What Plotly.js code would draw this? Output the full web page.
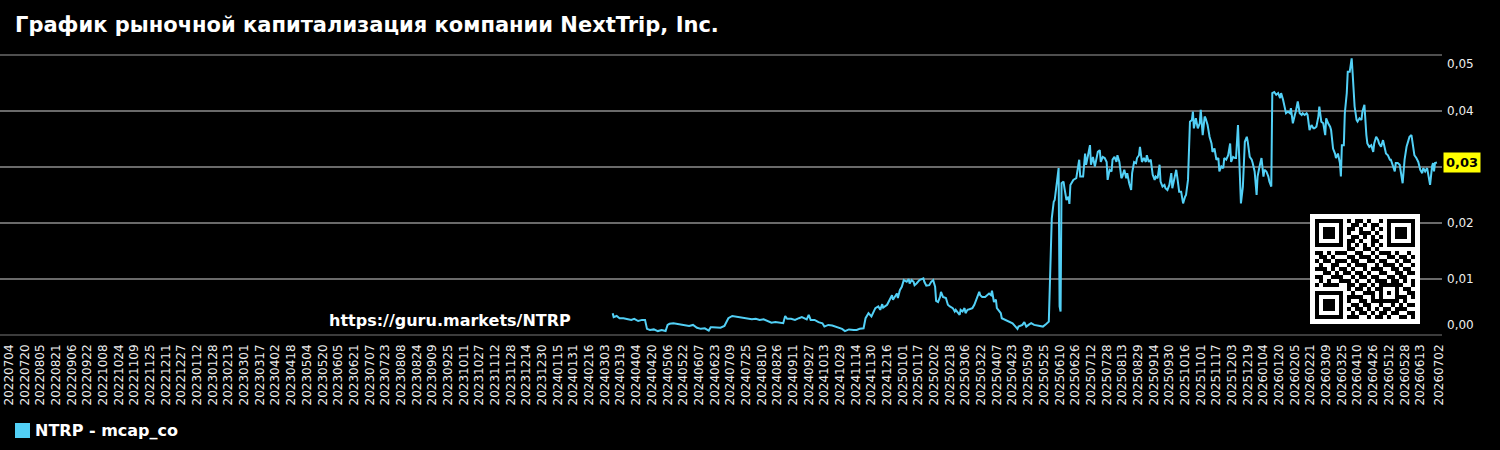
<!DOCTYPE html>
<html>
<head>
<meta charset="utf-8">
<script src="https://cdn.plot.ly/plotly-3.0.1.min.js"></script>
<style>
  html, body { margin: 0; padding: 0; background: #000; }
  #chart { width: 1500px; height: 450px; }
</style>
</head>
<body>
<div id="chart"></div>
<script>
// ---------------- DATA ----------------
const chartTitle = "График рыночной капитализация компании NextTrip, Inc.";
const seriesName = "NTRP - mcap_co";
const watermark = "https://guru.markets/NTRP";

const dates = [
"2024-03-13","2024-03-14","2024-03-17","2024-03-20","2024-03-24","2024-03-28","2024-04-01","2024-04-04","2024-04-08","2024-04-12",
"2024-04-15","2024-04-17","2024-04-20","2024-04-24","2024-04-28","2024-05-02","2024-05-06","2024-05-08","2024-05-10","2024-05-14",
"2024-05-18","2024-05-22","2024-05-26","2024-05-30","2024-06-03","2024-06-07","2024-06-11","2024-06-15","2024-06-19","2024-06-21",
"2024-06-23","2024-06-27","2024-07-01","2024-07-05","2024-07-09","2024-07-13","2024-07-17","2024-07-21","2024-07-25","2024-07-29",
"2024-08-02","2024-08-06","2024-08-10","2024-08-14","2024-08-18","2024-08-22","2024-08-26","2024-08-30","2024-09-03","2024-09-05",
"2024-09-07","2024-09-11","2024-09-15","2024-09-19","2024-09-22","2024-09-27","2024-09-29","2024-10-01","2024-10-05","2024-10-09",
"2024-10-13","2024-10-15","2024-10-19","2024-10-23","2024-10-27","2024-10-29","2024-11-02","2024-11-05","2024-11-09","2024-11-14",
"2024-11-17","2024-11-20","2024-11-24","2024-11-26","2024-11-29","2024-12-02","2024-12-06","2024-12-09","2024-12-11","2024-12-13",
"2024-12-14","2024-12-18","2024-12-21","2024-12-23","2024-12-24","2024-12-28","2024-12-29","2024-12-31","2025-01-02","2025-01-04",
"2025-01-07","2025-01-09","2025-01-10","2025-01-12","2025-01-14","2025-01-15","2025-01-17","2025-01-19","2025-01-20","2025-01-24",
"2025-01-25","2025-01-27","2025-01-30","2025-02-01","2025-02-03","2025-02-05","2025-02-06","2025-02-08","2025-02-10","2025-02-11",
"2025-02-13","2025-02-16","2025-02-18","2025-02-20","2025-02-23","2025-02-25","2025-02-26","2025-03-02","2025-03-03","2025-03-05",
"2025-03-07","2025-03-08","2025-03-10","2025-03-12","2025-03-15","2025-03-17","2025-03-20","2025-03-22","2025-03-23","2025-03-25",
"2025-03-28","2025-04-01","2025-04-03","2025-04-04","2025-04-06","2025-04-08","2025-04-09","2025-04-13","2025-04-14","2025-04-18",
"2025-04-21","2025-04-25","2025-04-28","2025-04-30","2025-05-01","2025-05-05","2025-05-07","2025-05-09","2025-05-12","2025-05-14",
"2025-05-17","2025-05-20","2025-05-26","2025-05-29","2025-06-01","2025-06-04","2025-06-06","2025-06-07","2025-06-09","2025-06-11",
"2025-06-12","2025-06-13","2025-06-14","2025-06-16","2025-06-17","2025-06-19","2025-06-21","2025-06-22","2025-06-23","2025-06-26",
"2025-06-29","2025-07-02","2025-07-03","2025-07-06","2025-07-08","2025-07-09","2025-07-11","2025-07-13","2025-07-14","2025-07-16",
"2025-07-18","2025-07-19","2025-07-21","2025-07-23","2025-07-24","2025-07-26","2025-07-28","2025-07-30","2025-07-31","2025-08-02",
"2025-08-04","2025-08-05","2025-08-07","2025-08-09","2025-08-10","2025-08-12","2025-08-14","2025-08-15","2025-08-17","2025-08-19",
"2025-08-20","2025-08-22","2025-08-24","2025-08-25","2025-08-27","2025-08-29","2025-08-30","2025-09-01","2025-09-02","2025-09-04",
"2025-09-06","2025-09-08","2025-09-09","2025-09-11","2025-09-13","2025-09-15","2025-09-17","2025-09-18","2025-09-20","2025-09-22",
"2025-09-23","2025-09-25","2025-09-27","2025-09-28","2025-09-30","2025-10-02","2025-10-04","2025-10-05","2025-10-07","2025-10-09",
"2025-10-10","2025-10-12","2025-10-14","2025-10-16","2025-10-18","2025-10-19","2025-10-21","2025-10-23","2025-10-25","2025-10-26",
"2025-10-27","2025-10-29","2025-10-31","2025-11-02","2025-11-03","2025-11-04","2025-11-05","2025-11-07","2025-11-08","2025-11-10",
"2025-11-12","2025-11-14","2025-11-15","2025-11-17","2025-11-19","2025-11-21","2025-11-22","2025-11-24","2025-11-26","2025-11-27",
"2025-11-29","2025-12-01","2025-12-03","2025-12-04","2025-12-06","2025-12-08","2025-12-09","2025-12-11","2025-12-12","2025-12-13",
"2025-12-14","2025-12-16","2025-12-18","2025-12-20","2025-12-21","2025-12-23","2025-12-25","2025-12-26","2025-12-28","2025-12-30",
"2025-12-31","2026-01-02","2026-01-04","2026-01-06","2026-01-07","2026-01-09","2026-01-11","2026-01-12","2026-01-14","2026-01-15",
"2026-01-17","2026-01-19","2026-01-21","2026-01-23","2026-01-24","2026-01-26","2026-01-28","2026-01-29","2026-01-31","2026-02-02",
"2026-02-03","2026-02-05","2026-02-07","2026-02-08","2026-02-10","2026-02-12","2026-02-14","2026-02-15","2026-02-17","2026-02-19",
"2026-02-20","2026-02-22","2026-02-24","2026-02-26","2026-02-27","2026-03-01","2026-03-03","2026-03-04","2026-03-06","2026-03-08",
"2026-03-10","2026-03-11","2026-03-13","2026-03-15","2026-03-16","2026-03-18","2026-03-20","2026-03-21","2026-03-23","2026-03-25",
"2026-03-26","2026-03-27","2026-03-29","2026-03-30","2026-04-01","2026-04-02","2026-04-04","2026-04-06","2026-04-07","2026-04-09",
"2026-04-11","2026-04-12","2026-04-14","2026-04-16","2026-04-17","2026-04-19","2026-04-21","2026-04-22","2026-04-24","2026-04-26",
"2026-04-28","2026-04-29","2026-05-01","2026-05-03","2026-05-04","2026-05-06","2026-05-08","2026-05-10","2026-05-11","2026-05-13",
"2026-05-15","2026-05-16","2026-05-18","2026-05-20","2026-05-21","2026-05-23","2026-05-25","2026-05-27","2026-05-28","2026-05-30",
"2026-06-01","2026-06-03","2026-06-04","2026-06-06","2026-06-08","2026-06-09","2026-06-11","2026-06-13","2026-06-15","2026-06-17",
"2026-06-18","2026-06-20","2026-06-22","2026-06-23","2026-06-25","2026-06-27","2026-06-28","2026-06-29","2026-06-30","2026-07-02"
];

const mcap = [
0.0039,0.0032,0.0034,0.0030,0.0030,0.0028,0.0027,0.0029,0.0025,0.0027,
0.0027,0.0011,0.0009,0.0010,0.0007,0.0009,0.0007,0.0018,0.0020,0.0021,
0.0020,0.0019,0.0017,0.0016,0.0018,0.0013,0.0011,0.0012,0.0008,0.0014,
0.0014,0.0013,0.0013,0.0016,0.0030,0.0034,0.0033,0.0032,0.0031,0.0030,
0.0028,0.0029,0.0027,0.0028,0.0025,0.0022,0.0023,0.0022,0.0021,0.0034,
0.0029,0.0029,0.0027,0.0030,0.0032,0.0028,0.0036,0.0027,0.0027,0.0023,
0.0021,0.0015,0.0018,0.0017,0.0015,0.0014,0.0011,0.0007,0.0010,0.0009,
0.0009,0.0011,0.0012,0.0030,0.0039,0.0033,0.0048,0.0051,0.0045,0.0055,
0.0049,0.0054,0.0066,0.0071,0.0063,0.0074,0.0066,0.0080,0.0086,0.0098,
0.0095,0.0100,0.0092,0.0098,0.0095,0.0089,0.0092,0.0095,0.0098,0.0101,
0.0095,0.0088,0.0089,0.0095,0.0098,0.0086,0.0061,0.0059,0.0068,0.0077,
0.0068,0.0066,0.0054,0.0051,0.0048,0.0042,0.0045,0.0036,0.0045,0.0042,
0.0048,0.0039,0.0045,0.0046,0.0048,0.0054,0.0066,0.0077,0.0071,0.0068,
0.0068,0.0074,0.0071,0.0079,0.0059,0.0063,0.0048,0.0039,0.0030,0.0027,
0.0024,0.0021,0.0015,0.0011,0.0015,0.0018,0.0023,0.0015,0.0019,0.0021,
0.0018,0.0017,0.0015,0.0019,0.0024,0.0208,0.0238,0.0241,0.0268,0.0298,
0.0051,0.0042,0.0271,0.0274,0.0262,0.0241,0.0247,0.0234,0.0268,0.0277,
0.0280,0.0313,0.0283,0.0283,0.0324,0.0304,0.0321,0.0339,0.0304,0.0318,
0.0301,0.0309,0.0327,0.0330,0.0309,0.0318,0.0316,0.0309,0.0277,0.0295,
0.0292,0.0313,0.0318,0.0309,0.0321,0.0309,0.0280,0.0283,0.0295,0.0280,
0.0289,0.0271,0.0259,0.0289,0.0309,0.0307,0.0316,0.0321,0.0336,0.0309,
0.0316,0.0309,0.0321,0.0309,0.0313,0.0286,0.0277,0.0283,0.0280,0.0304,
0.0274,0.0265,0.0268,0.0262,0.0259,0.0268,0.0289,0.0262,0.0277,0.0295,
0.0283,0.0256,0.0256,0.0235,0.0247,0.0250,0.0277,0.0381,0.0384,0.0399,
0.0369,0.0387,0.0369,0.0378,0.0402,0.0378,0.0357,0.0390,0.0387,0.0375,
0.0354,0.0342,0.0327,0.0333,0.0313,0.0316,0.0292,0.0301,0.0298,0.0316,
0.0313,0.0321,0.0342,0.0309,0.0318,0.0316,0.0316,0.0375,0.0313,0.0289,
0.0235,0.0265,0.0345,0.0354,0.0345,0.0318,0.0313,0.0307,0.0292,0.0250,
0.0283,0.0301,0.0316,0.0283,0.0295,0.0292,0.0283,0.0274,0.0265,0.0432,
0.0434,0.0429,0.0432,0.0423,0.0432,0.0420,0.0402,0.0396,0.0399,0.0396,
0.0405,0.0378,0.0393,0.0399,0.0417,0.0396,0.0393,0.0396,0.0393,0.0396,
0.0393,0.0366,0.0375,0.0369,0.0369,0.0372,0.0390,0.0408,0.0381,0.0378,
0.0357,0.0387,0.0378,0.0372,0.0366,0.0333,0.0324,0.0316,0.0324,0.0307,
0.0283,0.0339,0.0339,0.0396,0.0432,0.0470,0.0470,0.0494,0.0467,0.0408,
0.0384,0.0381,0.0387,0.0384,0.0399,0.0411,0.0357,0.0342,0.0336,0.0339,
0.0327,0.0342,0.0354,0.0348,0.0342,0.0336,0.0348,0.0333,0.0324,0.0321,
0.0313,0.0313,0.0304,0.0292,0.0307,0.0307,0.0304,0.0286,0.0271,0.0313,
0.0336,0.0348,0.0354,0.0357,0.0336,0.0321,0.0316,0.0309,0.0295,0.0289,
0.0298,0.0292,0.0298,0.0289,0.0268,0.0301,0.0307,0.0292,0.0307,0.0308
];

const xTickLabels = [
"20220704","20220720","20220805","20220821","20220906","20220922","20221008","20221024","20221109","20221125","20221211","20221227",
"20230112","20230128","20230213","20230301","20230317","20230402","20230418","20230504","20230520","20230605","20230621","20230707",
"20230723","20230808","20230824","20230909","20230925","20231011","20231027","20231112","20231128","20231214","20231230",
"20240115","20240131","20240216","20240303","20240319","20240404","20240420","20240506","20240522","20240607","20240623","20240709",
"20240725","20240810","20240826","20240911","20240927","20241013","20241029","20241114","20241130","20241216",
"20250101","20250117","20250202","20250218","20250306","20250322","20250407","20250423","20250509","20250525","20250610","20250626",
"20250712","20250728","20250813","20250829","20250914","20250930","20251016","20251101","20251117","20251203","20251219",
"20260104","20260120","20260205","20260221","20260309","20260325","20260410","20260426","20260512","20260528","20260613","20260702"
];

const yTickValues = [0, 0.01, 0.02, 0.03, 0.04, 0.05];
const yTickLabels = ["0,00", "0,01", "0,02", "0,03", "0,04", "0,05"];

// decorative QR-style code (watermark badge)
const qrRows = [
"1111111010110100101111111",
"1000001001101011001000001",
"1011101011010010101011101",
"1011101010011101001011101",
"1011101001101010101011101",
"1000001011010011001000001",
"1111111010101010101111111",
"0000000011001101000000000",
"1101011100110010111010010",
"0110100011011101001101101",
"1011011101100110110010110",
"0100110010111001011101001",
"1110101101001011100110110",
"0011010110110100110011011",
"1100111001011011001101100",
"0101001110100101110110101",
"1011110011011010111111001",
"0000000010110101100010110",
"1111111001001110101010011",
"1000001011110010100011101",
"1011101010011011111110100",
"1011101001101100100101011",
"1011101010110101011011100",
"1000001001011010110110011",
"1111111011100101101001101"
];

// ---------------- LAYOUT ----------------
const W = 1500, H = 450;
const ML = 0, MR = 58, MT = 55, MB = 115;
const plotW = W - ML - MR, plotH = H - MT - MB;
const px2x = p => (p - ML) / plotW;
const py2y = p => (H - MB - p) / plotH;

const FONT = "DejaVu Sans, Verdana, sans-serif";
const lineColor = "#52d0f6";
const tickTextColor = "#eeeeee";
const gridColor = "#6a6a6a";

function toIso(s) { return s.slice(0,4) + "-" + s.slice(4,6) + "-" + s.slice(6,8); }

const trace = {
  type: "scatter",
  mode: "lines",
  x: dates,
  y: mcap,
  name: seriesName,
  line: { color: lineColor, width: 2 },
  showlegend: false,
  hoverinfo: "x+y"
};

const annotations = [];
const shapes = [];

// top gridline (range end)
shapes.push({
  type: "line", xref: "paper", yref: "paper", x0: 0, x1: 1, y0: 1, y1: 1,
  line: { color: gridColor, width: 1.4 }, layer: "below"
});

const lastVal = mcap[mcap.length - 1];

// y tick labels (edge labels nudged inside, as in the reference);
// the label hidden by the last-value marker is not drawn
yTickValues.forEach((v, i) => {
  if (Math.abs(v - lastVal) < 0.002) return;
  let shift = 0;
  if (i === 0) shift = 10;
  if (i === yTickValues.length - 1) shift = -9;
  annotations.push({
    xref: "paper", yref: "y", x: 1, y: v, xanchor: "left", yanchor: "middle",
    xshift: 3, yshift: shift, showarrow: false, text: yTickLabels[i],
    font: { family: FONT, size: 12, color: tickTextColor }
  });
});

// last value marker
annotations.push({
  xref: "paper", yref: "y", x: 1, y: lastVal, xanchor: "left", yanchor: "middle",
  xshift: 1, showarrow: false, text: "<b>" + lastVal.toFixed(2).replace(".", ",") + "</b>",
  bgcolor: "#ffff00", borderpad: 2,
  font: { family: FONT, size: 13, color: "#000000" }
});

// watermark text
annotations.push({
  xref: "paper", yref: "paper", x: px2x(450), y: py2y(320), xanchor: "center", yanchor: "middle",
  showarrow: false, text: "<b>" + watermark + "</b>",
  font: { family: FONT, size: 16, color: "#ffffff" }
});

// legend (square swatch + label)
shapes.push({
  type: "rect", xref: "paper", yref: "paper",
  x0: px2x(15), x1: px2x(30), y0: py2y(438), y1: py2y(423),
  fillcolor: lineColor, line: { width: 0 }
});
annotations.push({
  xref: "paper", yref: "paper", x: px2x(33), y: py2y(430.5), xanchor: "left", yanchor: "middle",
  showarrow: false, text: "<b>" + seriesName + "</b>",
  font: { family: FONT, size: 16, color: "#ffffff" }
});

// QR badge
const qrX0 = 1310, qrY0 = 214, qrSize = 110, mod = 4, qrPad = 5;
shapes.push({
  type: "rect", xref: "paper", yref: "paper",
  x0: px2x(qrX0), x1: px2x(qrX0 + qrSize), y0: py2y(qrY0 + qrSize), y1: py2y(qrY0),
  fillcolor: "#ffffff", line: { width: 0 }, layer: "above"
});
qrRows.forEach((row, r) => {
  let c = 0;
  while (c < row.length) {
    if (row[c] === "1") {
      let e = c;
      while (e < row.length && row[e] === "1") e++;
      const xa = qrX0 + qrPad + c * mod, xb = qrX0 + qrPad + e * mod;
      const ya = qrY0 + qrPad + r * mod, yb = ya + mod;
      shapes.push({
        type: "rect", xref: "paper", yref: "paper",
        x0: px2x(xa), x1: px2x(xb), y0: py2y(yb), y1: py2y(ya),
        fillcolor: "#000000", line: { width: 0 }, layer: "above"
      });
      c = e;
    } else c++;
  }
});

const layout = {
  width: W, height: H,
  paper_bgcolor: "#000000",
  plot_bgcolor: "#000000",
  margin: { l: ML, r: MR, t: MT, b: MB, pad: 0 },
  separators: ", ",
  showlegend: false,
  title: {
    text: "<b>" + chartTitle + "</b>",
    xref: "container", yref: "container",
    x: 15 / W, xanchor: "left",
    y: 1 - 25 / H, yanchor: "middle",
    font: { family: FONT, size: 21, color: "#ffffff" }
  },
  xaxis: {
    type: "date",
    range: ["2022-06-26 20:40", "2026-07-07 04:00"],
    tickmode: "array",
    tickvals: xTickLabels.map(toIso),
    ticktext: xTickLabels,
    tickangle: -90,
    tickfont: { family: FONT, size: 12, color: tickTextColor },
    ticks: "",
    ticklabelstandoff: 6,
    ticklabelshift: 2,
    ticklabeloverflow: "allow",
    showgrid: false, zeroline: false, showline: false,
    automargin: false,
    fixedrange: true
  },
  yaxis: {
    side: "right",
    range: [0, 0.05],
    tickmode: "array",
    tickvals: yTickValues,
    showticklabels: false,
    showgrid: true, gridcolor: gridColor, gridwidth: 1.4,
    zeroline: true, zerolinecolor: "#3c3c3c", zerolinewidth: 2.5,
    showline: false, ticks: "",
    automargin: false,
    fixedrange: true
  },
  annotations: annotations,
  shapes: shapes
};

Plotly.newPlot("chart", [trace], layout, { displayModeBar: false, staticPlot: true });
</script>
</body>
</html>
